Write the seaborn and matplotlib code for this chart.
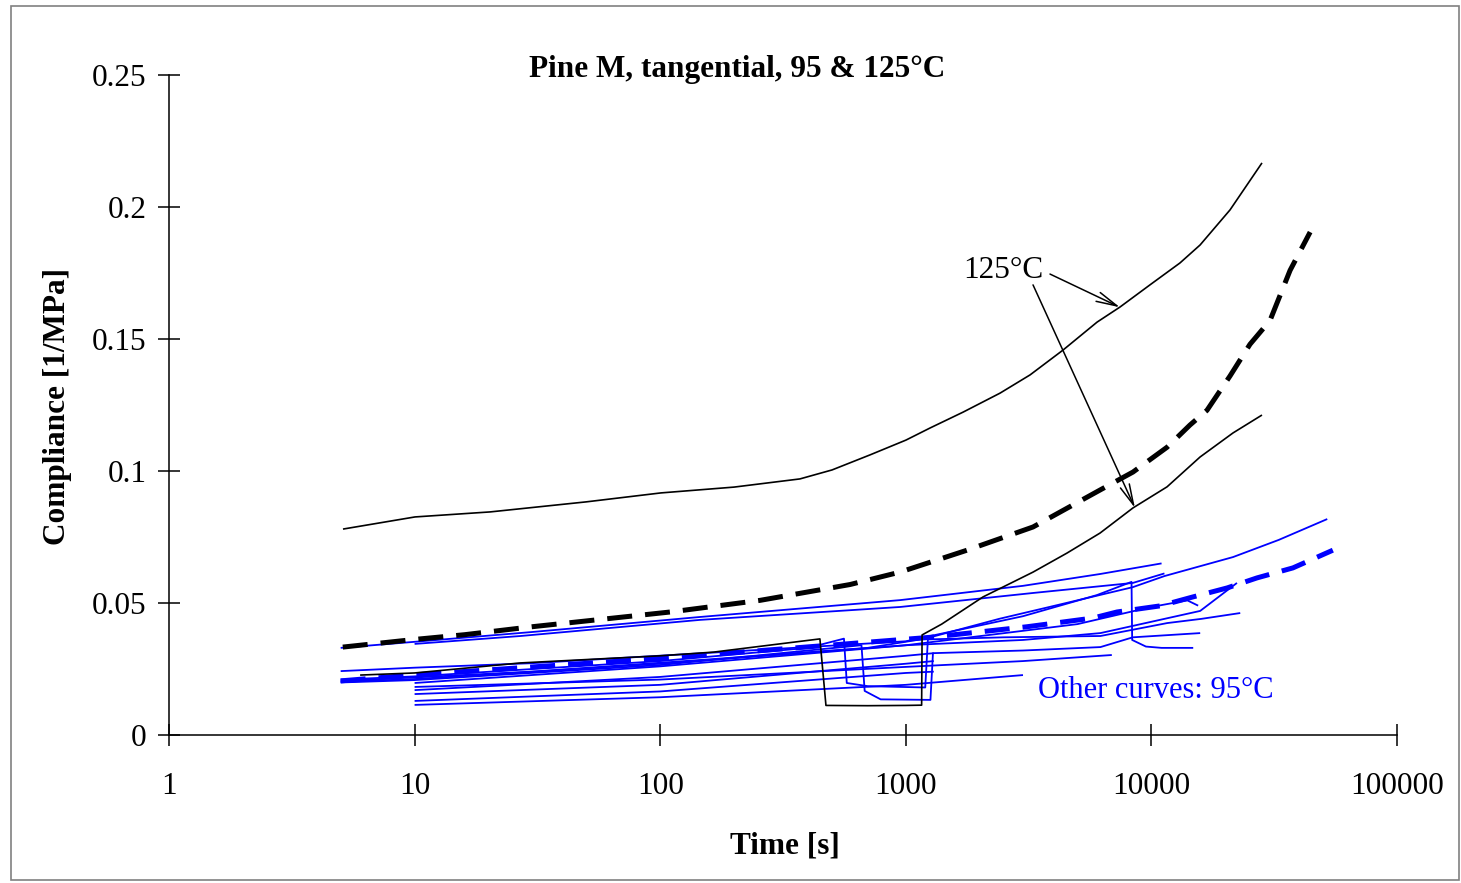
import matplotlib
matplotlib.use("Agg")
import matplotlib.pyplot as plt
from matplotlib.patches import Rectangle
import seaborn as sns
import pandas as pd

# ---------------- data (time [s], compliance [1/MPa]) ----------------
# 125 C curves (black)
k1_t = [5.11, 10.04, 20.3, 49.9, 100.7, 199.7, 370.6, 500.8, 715, 1001, 1256, 1711, 2420, 3206, 4366, 6010, 7447, 9866, 13070, 15780, 20900, 28200]
k1_c = [0.0780, 0.0826, 0.0845, 0.0883, 0.0917, 0.0939, 0.0970, 0.1004, 0.1061, 0.1117, 0.1163, 0.1223, 0.1295, 0.1364, 0.1458, 0.1564, 0.1621, 0.1705, 0.1788, 0.1856, 0.1989, 0.2167]

k2_t = [6, 10, 27, 100, 165, 447, 473, 700, 1000, 1160, 1165, 1400, 2063, 3296, 4530, 6180, 8410, 11580, 15780, 21480, 28200]
k2_c = [0.0227, 0.0235, 0.0273, 0.030, 0.0314, 0.0364, 0.0112, 0.0111, 0.0112, 0.0113, 0.0379, 0.042, 0.0523, 0.0617, 0.0689, 0.0765, 0.086, 0.094, 0.1053, 0.1144, 0.1212]

k_mean_t = [5.1, 10, 16, 30, 110, 255, 593, 947, 1775, 3297, 6180, 8413, 11580, 14350, 16840, 20900, 25200, 30400, 36700, 44300]
k_mean_c = [0.0333, 0.0362, 0.038, 0.041, 0.0466, 0.051, 0.057, 0.0617, 0.070, 0.0788, 0.0928, 0.0996, 0.109, 0.1174, 0.123, 0.136, 0.148, 0.157, 0.176, 0.1905]

# 95 C curves (blue)
b1_t = [5, 10, 30, 145, 950, 3000, 6200, 11000]
b1_c = [0.033, 0.0353, 0.039, 0.0447, 0.0511, 0.0565, 0.061, 0.065]
b2_t = [10, 27, 145, 950, 3300, 8400, 11300]
b2_c = [0.0345, 0.0375, 0.0436, 0.0485, 0.0538, 0.0576, 0.0612]
b3_t = [5, 10, 30, 150, 700, 1200, 2400, 4500, 8400, 11300, 21500, 33000, 52000]
b3_c = [0.0205, 0.0218, 0.024, 0.0285, 0.033, 0.0365, 0.044, 0.050, 0.056, 0.0602, 0.0674, 0.0739, 0.0818]
b4_t = [5, 10, 30, 150, 1000, 3000, 6000, 8300, 8350, 9500, 11000, 14800]
b4_c = [0.0242, 0.0255, 0.0272, 0.031, 0.0355, 0.045, 0.053, 0.058, 0.036, 0.0335, 0.033, 0.033]
b5_t = [5, 10, 100, 1000, 3000, 6200, 15800, 22300]
b5_c = [0.0201, 0.0212, 0.027, 0.034, 0.036, 0.0386, 0.047, 0.0576]
b6_t = [5, 10, 100, 400, 560, 575, 700, 1200, 1230, 2500, 6200, 11600, 16000, 23000]
b6_c = [0.021, 0.0222, 0.028, 0.033, 0.0365, 0.0197, 0.0185, 0.018, 0.0362, 0.037, 0.0375, 0.0424, 0.044, 0.0462]
b7_t = [5, 10, 100, 660, 680, 790, 1260, 1290, 3000, 6200, 8400, 15800]
b7_c = [0.0199, 0.0208, 0.0265, 0.034, 0.0167, 0.0135, 0.0133, 0.031, 0.032, 0.0333, 0.037, 0.0386]
b8_t = [10, 100, 1000, 5000, 10000, 14000, 15500]
b8_c = [0.0197, 0.026, 0.034, 0.042, 0.0485, 0.051, 0.049]
b9_t = [10, 100, 1000, 3000, 6900]
b9_c = [0.0182, 0.021, 0.0258, 0.028, 0.0303]
b10_t = [10, 100, 1000, 3000]
b10_c = [0.0114, 0.0143, 0.019, 0.0227]
b11_t = [10, 100, 1000, 1300]
b11_c = [0.0129, 0.0165, 0.0235, 0.024]
b12_t = [10, 100, 1000, 1300]
b12_c = [0.0155, 0.019, 0.027, 0.028]
b13_t = [10, 100, 1000, 1300]
b13_c = [0.017, 0.022, 0.030, 0.031]

b_mean_t = [5, 10, 100, 1256, 3113, 5785, 7245, 10840, 14760, 20330, 26900, 37700, 54800]
b_mean_c = [0.0205, 0.0228, 0.029, 0.037, 0.041, 0.0443, 0.0466, 0.0489, 0.0523, 0.0557, 0.0595, 0.0633, 0.070]

x_ticks = [1, 10, 100, 1000, 10000, 100000]
x_labels = ["1", "10", "100", "1000", "10000", "100000"]
y_ticks = [0, 0.05, 0.1, 0.15, 0.2, 0.25]
y_labels = ["0", "0.05", "0.1", "0.15", "0.2", "0.25"]

title = "Pine M, tangential, 95 & 125°C"
x_title = "Time [s]"
y_title = "Compliance [1/MPa]"
label_hot = "125°C"
label_cold = "Other curves: 95°C"

# ---------------- style ----------------
sns.set_theme(style="white")
plt.rcParams["font.family"] = ["Liberation Serif", "DejaVu Serif"]
plt.rcParams["axes.edgecolor"] = "black"
plt.rcParams["text.color"] = "black"
plt.rcParams["axes.labelcolor"] = "black"
FS = 22.5

fig = plt.figure(figsize=(14.61, 8.83), dpi=100)
ax = fig.add_axes([169 / 1461, 1 - 735 / 883, (1397 - 169) / 1461, (735 - 75) / 883])

blue_series = [(b1_t, b1_c), (b2_t, b2_c), (b3_t, b3_c), (b4_t, b4_c), (b5_t, b5_c),
               (b6_t, b6_c), (b7_t, b7_c), (b8_t, b8_c), (b9_t, b9_c), (b10_t, b10_c),
               (b11_t, b11_c), (b12_t, b12_c), (b13_t, b13_c)]

for t, c in blue_series:
    df = pd.DataFrame({"t": t, "c": c})
    sns.lineplot(data=df, x="t", y="c", ax=ax, color="#0000FF", lw=1.3,
                 sort=False, estimator=None)

df = pd.DataFrame({"t": b_mean_t, "c": b_mean_c})
sns.lineplot(data=df, x="t", y="c", ax=ax, color="#0000FF", lw=3.6,
             sort=False, estimator=None, linestyle=(0, (5, 2.6)))

for t, c in [(k1_t, k1_c), (k2_t, k2_c)]:
    df = pd.DataFrame({"t": t, "c": c})
    sns.lineplot(data=df, x="t", y="c", ax=ax, color="black", lw=1.2,
                 sort=False, estimator=None)

df = pd.DataFrame({"t": k_mean_t, "c": k_mean_c})
sns.lineplot(data=df, x="t", y="c", ax=ax, color="black", lw=3.6,
             sort=False, estimator=None, linestyle=(0, (5, 2.6)))

for ln in ax.lines:
    ln.set_dash_capstyle("butt")
    ln.set_solid_joinstyle("round")
    ln.set_solid_capstyle("butt")

ax.set_xscale("log")
ax.set_xlim(1, 100000)
ax.set_ylim(0, 0.25)
ax.set_xticks(x_ticks)
ax.set_xticklabels(x_labels)
ax.xaxis.set_minor_locator(matplotlib.ticker.NullLocator())
ax.set_yticks(y_ticks)
ax.set_yticklabels(y_labels)
ax.set_xlabel("")
ax.set_ylabel("")

for s in ["top", "right"]:
    ax.spines[s].set_visible(False)
for s in ["left", "bottom"]:
    ax.spines[s].set_linewidth(1.1)
    ax.spines[s].set_color("black")

ax.tick_params(axis="both", which="major", direction="inout", length=16, width=1.1,
               color="black", labelsize=FS, labelcolor="black",
               bottom=True, left=True, top=False, right=False)
ax.tick_params(axis="y", pad=8)
ax.tick_params(axis="x", pad=19)
ax.grid(False)

# texts
fig.text(737 / 1461, 1 - 69 / 883, title, ha="center", va="center",
         fontsize=FS, fontweight="bold")
fig.text(785 / 1461, 1 - 846 / 883, x_title, ha="center", va="center",
         fontsize=FS, fontweight="bold")
fig.text(58 / 1461, 1 - 406 / 883, y_title, ha="center", va="center",
         fontsize=FS, fontweight="bold", rotation=90)

ax.text(2488, 0.1761, label_hot, ha="center", va="center", fontsize=FS, color="black")
ax.text(3452, 0.017, label_cold, ha="left", va="center", fontsize=22, color="#0000FF")

arrow_kw = dict(arrowstyle="->,head_length=1.5,head_width=0.35", lw=1.1, color="black",
                shrinkA=0, shrinkB=0, mutation_scale=10)
ax.annotate("", xy=(7450, 0.162), xytext=(3865, 0.1746), arrowprops=arrow_kw)
ax.annotate("", xy=(8570, 0.086), xytext=(3296, 0.1705), arrowprops=arrow_kw)

# outer frame
fig.patches.append(Rectangle((11 / 1461, 1 - 880 / 883), 1448 / 1461, 874 / 883,
                             transform=fig.transFigure, fill=False,
                             edgecolor="#808080", lw=1.2))

fig.savefig("out.png", dpi=100)
